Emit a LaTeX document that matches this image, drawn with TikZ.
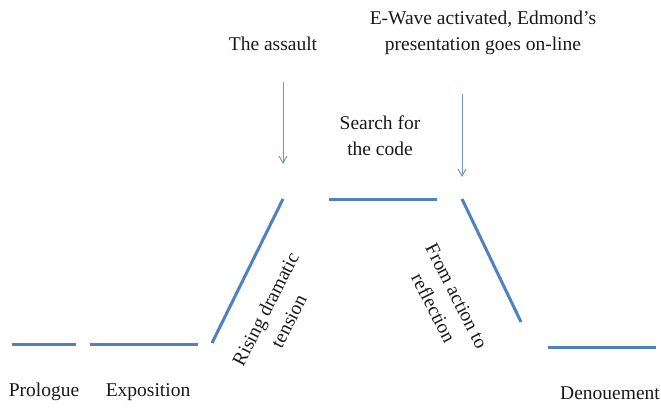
\documentclass[tikz,border=0pt]{standalone}
\usepackage{fontspec}
\setmainfont{Liberation Serif}
\usetikzlibrary{arrows.meta}
\begin{document}
\begin{tikzpicture}[x=1pt,y=-1pt,
  stage/.style={draw=lineblue,line width=3pt},
  pointer/.style={draw=arrowblue,line width=1pt,-{Straight Barb[length=7pt,width=8pt]}},
  lbl/.style={font=\fontsize{19.5}{26}\selectfont,align=center,inner sep=0pt,text=black!90}]
\definecolor{lineblue}{HTML}{4F81BD}
\definecolor{arrowblue}{HTML}{7393C9}
\useasboundingbox (0,0) rectangle (661,407);
% stage lines
\coordinate (p1) at (12,344); \coordinate (p2) at (76,344);
\coordinate (e1) at (90,344); \coordinate (e2) at (198,344);
\coordinate (r1) at (212,343); \coordinate (r2) at (283,199);
\coordinate (t1) at (329,199); \coordinate (t2) at (437,199);
\coordinate (f1) at (462,199); \coordinate (f2) at (521,322);
\coordinate (d1) at (548,347); \coordinate (d2) at (656,347);
\draw[stage] (p1) -- (p2);
\draw[stage] (e1) -- (e2);
\draw[stage] (r1) -- (r2);
\draw[stage] (t1) -- (t2);
\draw[stage] (f1) -- (f2);
\draw[stage] (d1) -- (d2);
% labels
\node[lbl] (prologue) at (44,392) {Prologue};
\node[lbl] (exposition) at (148,392) {Exposition};
\node[lbl] (denouement) at (610,393) {Denouement};
\node[lbl] (assault) at (273,44) {The assault};
\node[lbl] (ewave) at (483,33) {E-Wave activated, Edmond's\\presentation goes on-line};
\node[lbl] (search) at (380,136) {Search for\\the code};
\node[lbl,rotate=63] (rising) at (277,315) {Rising dramatic\\tension};
\node[lbl,rotate=-63] (falling) at (445,302) {From action to\\reflection};
% arrows
\coordinate (a1s) at (283,82); \coordinate (a1e) at (283,164);
\coordinate (a2s) at (462,94); \coordinate (a2e) at (462,177);
\draw[pointer] (a1s) -- (a1e);
\draw[pointer] (a2s) -- (a2e);
\end{tikzpicture}
\end{document}
